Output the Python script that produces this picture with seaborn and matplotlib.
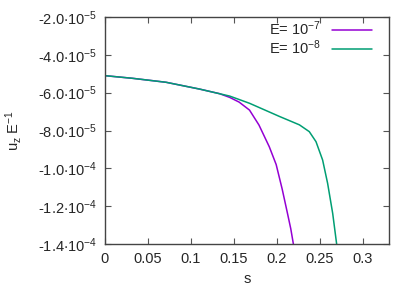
import pandas as pd
import matplotlib
matplotlib.use('Agg')
import matplotlib.pyplot as plt
from matplotlib.ticker import FixedLocator
import seaborn as sns

# values
s_e7 = [0.0, 0.032, 0.071, 0.11, 0.133, 0.145, 0.156, 0.168, 0.179, 0.191, 0.199,
        0.206, 0.212, 0.216, 0.219]
u_e7 = [-5.10e-5, -5.24e-5, -5.45e-5, -5.81e-5, -6.05e-5, -6.25e-5, -6.50e-5, -6.92e-5,
        -7.71e-5, -8.86e-5, -9.80e-5, -1.11e-4, -1.235e-4, -1.32e-4, -1.40e-4]
s_e8 = [0.0, 0.032, 0.071, 0.11, 0.145, 0.168, 0.191, 0.203, 0.214, 0.226, 0.2375,
        0.2453, 0.253, 0.2588, 0.2647, 0.2693]
u_e8 = [-5.10e-5, -5.24e-5, -5.45e-5, -5.81e-5, -6.18e-5, -6.56e-5, -7.02e-5, -7.26e-5,
        -7.47e-5, -7.70e-5, -8.06e-5, -8.59e-5, -9.56e-5, -1.079e-4, -1.238e-4, -1.40e-4]
labels = [r'E= $10^{-7}$', r'E= $10^{-8}$']
colors = ['#9400d3', '#009e73']

x_ticks = [0, 0.05, 0.1, 0.15, 0.2, 0.25, 0.3]
x_ticklabels = ['0', '0.05', '0.1', '0.15', '0.2', '0.25', '0.3']
y_ticks = [-2.0e-5, -4.0e-5, -6.0e-5, -8.0e-5, -1.0e-4, -1.2e-4, -1.4e-4]
y_ticklabels = [r'-2.0$\cdot$10$^{-5}$', r'-4.0$\cdot$10$^{-5}$', r'-6.0$\cdot$10$^{-5}$',
                r'-8.0$\cdot$10$^{-5}$', r'-1.0$\cdot$10$^{-4}$', r'-1.2$\cdot$10$^{-4}$',
                r'-1.4$\cdot$10$^{-4}$']

sns.set_style('ticks')
plt.rcParams['font.family'] = ['Liberation Sans', 'DejaVu Sans']
plt.rcParams['mathtext.fontset'] = 'custom'
plt.rcParams['mathtext.rm'] = 'Liberation Sans'
plt.rcParams['mathtext.it'] = 'Liberation Sans'
plt.rcParams['mathtext.default'] = 'regular'

df = pd.concat([
    pd.DataFrame({'s': s_e7, 'u': u_e7, 'E': labels[0]}),
    pd.DataFrame({'s': s_e8, 'u': u_e8, 'E': labels[1]}),
], ignore_index=True)

fig = plt.figure(figsize=(4.15, 2.91), dpi=100)
ax = fig.add_axes([0.253, 0.1615, 0.684, 0.78])
sns.lineplot(data=df, x='s', y='u', hue='E', palette=colors, sort=False,
             estimator=None, linewidth=1.1, ax=ax)

ax.set_xlim(0, 0.33)
ax.set_ylim(-1.4e-4, -2.0e-5)
ax.xaxis.set_major_locator(FixedLocator(x_ticks))
ax.set_xticklabels(x_ticklabels)
ax.yaxis.set_major_locator(FixedLocator(y_ticks))
ax.set_yticklabels(y_ticklabels)
ax.tick_params(direction='in', length=4, width=0.8, color='#555555',
               top=True, right=True, labelsize=10.5, pad=6)
for sp in ax.spines.values():
    sp.set_color('#444444')
    sp.set_linewidth(1.0)

ax.set_xlabel('s', fontsize=10.5, labelpad=4)
ax.set_ylabel(r'u$_z$ E$^{-1}$', fontsize=10.5, labelpad=10)

leg = ax.legend(loc='upper right', bbox_to_anchor=(0.96, 1.015), frameon=False,
                markerfirst=False, fontsize=10.5, handlelength=2.7, labelspacing=0.0,
                borderaxespad=0, handletextpad=0.75)

fig.savefig('out.png', dpi=100)
